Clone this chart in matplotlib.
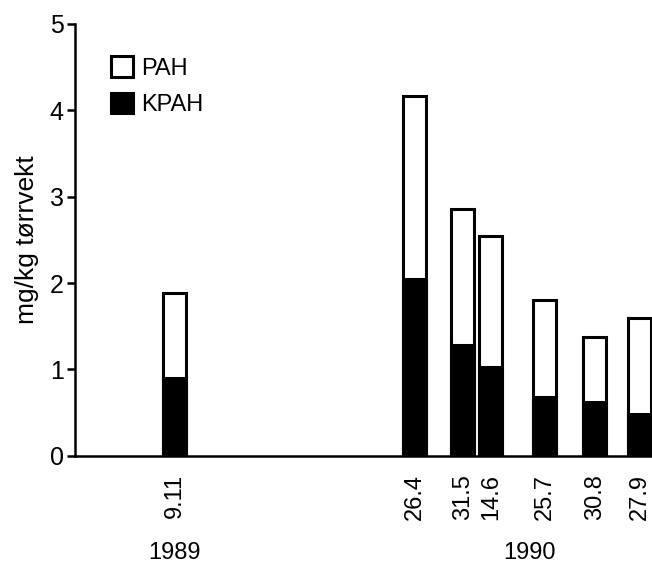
import numpy as np
import matplotlib.pyplot as plt

# sampling dates (day.month) and the year they belong to
dates = ["9.11", "26.4", "31.5", "14.6", "25.7", "30.8", "27.9"]
years = ["1989", "1990"]

# total PAH and carcinogenic PAH, mg/kg dry weight
pah = [1.88, 4.16, 2.86, 2.54, 1.80, 1.37, 1.59]
kpah = [0.90, 2.05, 1.28, 1.03, 0.68, 0.62, 0.49]

# bar positions along the x axis (not to date scale in the original)
xpos = np.array([100, 340, 388, 416, 470, 520, 565])
year_xpos = [100, 455]

plt.rcParams['font.family'] = ['Liberation Sans', 'DejaVu Sans']

fig = plt.figure(figsize=(6.52, 5.67), dpi=100)
ax = fig.add_axes([0.115, 0.196, 0.885, 0.762])

b1 = ax.bar(xpos, pah, width=23, color='white', edgecolor='black', linewidth=2.2, label='PAH')
b2 = ax.bar(xpos, kpah, width=23, color='black', edgecolor='black', linewidth=2.2, label='KPAH')

ax.set_xlim(0, 577)
ax.set_ylim(0, 5)
ax.set_yticks([0, 1, 2, 3, 4, 5])
ax.set_xticks(xpos)
ax.set_xticklabels(dates, rotation=90, fontsize=17)
ax.tick_params(axis='x', length=0, pad=13)
ax.tick_params(axis='y', direction='out', length=6, width=1.8, labelsize=18, pad=2)

ax.spines['top'].set_visible(False)
ax.spines['right'].set_visible(False)
ax.spines['left'].set_linewidth(1.8)
ax.spines['bottom'].set_linewidth(1.8)

ax.set_ylabel("mg/kg tørrvekt", fontsize=19, labelpad=8)

for x, yr in zip(year_xpos, years):
    ax.text(x, -0.200, yr, transform=ax.get_xaxis_transform(), ha='center', va='top', fontsize=17)

ax.legend(handles=[b1, b2], loc='upper left', bbox_to_anchor=(0.062, 0.925), frameon=False,
          fontsize=17, handlelength=0.95, handleheight=0.95, handletextpad=0.35, labelspacing=0.55,
          borderaxespad=0, borderpad=0)

fig.savefig("out.png", dpi=100)
